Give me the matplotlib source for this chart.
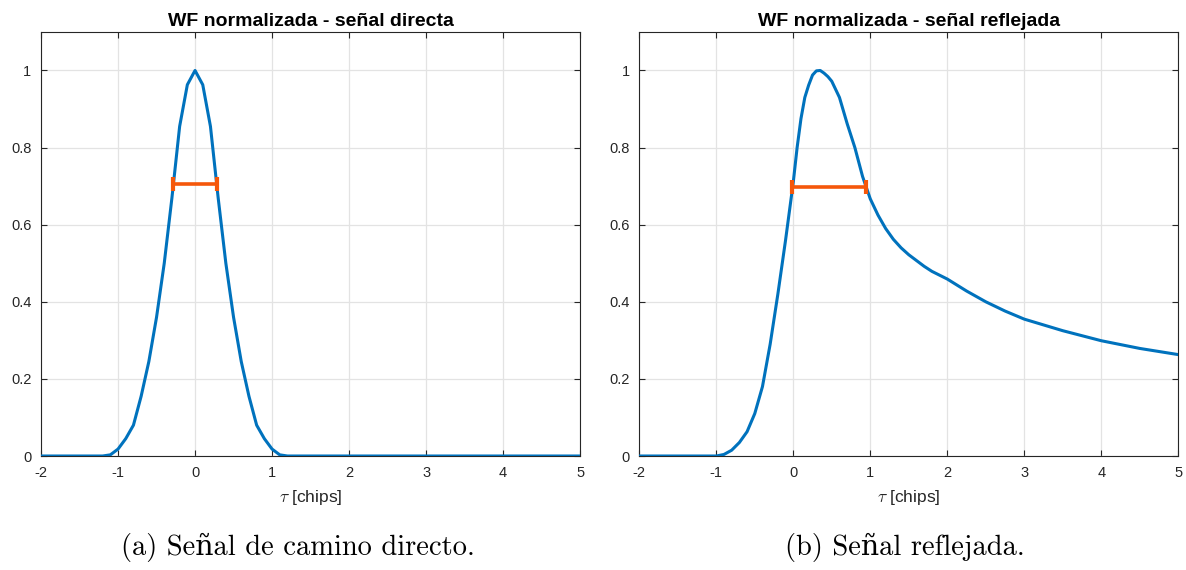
import matplotlib
matplotlib.use("Agg")
import matplotlib.pyplot as plt

plt.rcParams['font.family'] = ['Liberation Sans', 'DejaVu Sans']
plt.rcParams['axes.unicode_minus'] = False
plt.rcParams['mathtext.fontset'] = 'cm'

# directa: muestreo cada 0.1 chip
tau_d = [-2.0, -1.3, -1.2, -1.1, -1.0, -0.9, -0.8, -0.7, -0.6, -0.5, -0.4, -0.3, -0.2, -0.1,
         0.0, 0.1, 0.2, 0.3, 0.4, 0.5, 0.6, 0.7, 0.8, 0.9, 1.0, 1.1, 1.2, 1.3, 5.0]
wf_d = [0.0, 0.0, 0.0, 0.003, 0.018, 0.045, 0.08, 0.155, 0.245, 0.36, 0.50, 0.67, 0.855, 0.963,
        1.0, 0.963, 0.855, 0.67, 0.50, 0.36, 0.245, 0.155, 0.08, 0.045, 0.018, 0.003, 0.0, 0.0, 0.0]

# reflejada
tau_r = [-2.0, -1.0, -0.9, -0.8, -0.7, -0.6, -0.5, -0.4, -0.3, -0.2, -0.1, 0.0, 0.05, 0.1,
         0.15, 0.2, 0.25, 0.3, 0.35, 0.4, 0.45, 0.5, 0.6, 0.7, 0.8, 0.9, 1.0, 1.1, 1.2, 1.3,
         1.4, 1.5, 1.6, 1.7, 1.8, 1.9, 2.0, 2.25, 2.5, 2.75, 3.0, 3.5, 4.0, 4.5, 5.0]
wf_r = [0.0, 0.0, 0.004, 0.015, 0.035, 0.063, 0.11, 0.18, 0.29, 0.42, 0.56, 0.71, 0.80, 0.875,
        0.93, 0.962, 0.988, 0.999, 1.0, 0.993, 0.984, 0.972, 0.93, 0.862, 0.80, 0.725, 0.667,
        0.625, 0.59, 0.562, 0.54, 0.522, 0.507, 0.492, 0.479, 0.469, 0.459, 0.428, 0.40,
        0.376, 0.355, 0.325, 0.299, 0.279, 0.263]

# anchura a 0.7
bar_d = ([-0.28, 0.28], 0.705)
bar_r = ([-0.02, 0.95], 0.699)

titles = ['WF normalizada - señal directa', 'WF normalizada - señal reflejada']
captions = ['(a) Señal de camino directo.', '(b) Señal reflejada.']
xticks = [-2, -1, 0, 1, 2, 3, 4, 5]
yticks = [0, 0.2, 0.4, 0.6, 0.8, 1]
ytick_labels = ['0', '0.2', '0.4', '0.6', '0.8', '1']

blue = '#0072BD'
orange = '#F5570A'
dark = '#262626'

fig = plt.figure(figsize=(11.86, 5.70), dpi=100)
ax1 = fig.add_axes([0.0346, 0.2, 0.4545, 0.744])
ax2 = fig.add_axes([0.539, 0.2, 0.4545, 0.744])

series = [(tau_d, wf_d, bar_d), (tau_r, wf_r, bar_r)]
cap_x = [0.251, 0.763]
for ax, (t, w, bar), title, cap, cx in zip([ax1, ax2], series, titles, captions, cap_x):
    ax.plot(t, w, color=blue, lw=2.2, zorder=3)
    bx, by = bar
    ax.plot(bx, [by, by], color=orange, lw=2.6, zorder=4, solid_capstyle='butt')
    ax.plot(bx, [by, by], ls='none', marker='|', ms=10, mew=3, color=orange, zorder=4)
    ax.set_xlim(-2, 5)
    ax.set_ylim(0, 1.1)
    ax.set_xticks(xticks)
    ax.set_xticklabels([str(v) for v in xticks])
    ax.set_yticks(yticks)
    ax.set_yticklabels(ytick_labels)
    ax.grid(True, color='#e3e3e3', lw=0.9)
    ax.set_axisbelow(True)
    ax.tick_params(direction='in', top=True, right=True, length=4, width=0.8,
                   colors=dark, labelsize=10.5, pad=7)
    for s in ax.spines.values():
        s.set_color(dark)
        s.set_linewidth(0.8)
    ax.set_title(title, fontsize=14, fontweight='bold', color='black', pad=4)
    ax.set_xlabel(r'$\tau$ [chips]', fontsize=12.5, color=dark, labelpad=6)
    fig.text(cx, 0.039, cap, ha='center', va='center',
             fontsize=20.5, family=['cmr10', 'DejaVu Serif'], color='black')

fig.savefig('out.png', dpi=100)
